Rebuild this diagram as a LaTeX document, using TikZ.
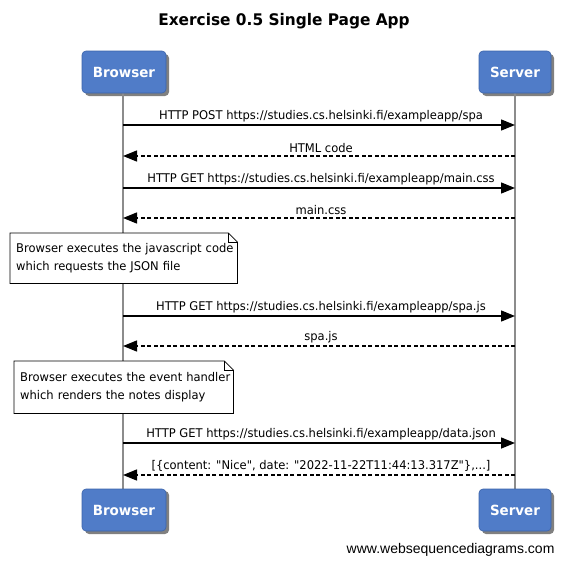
\documentclass[tikz,border=0pt]{standalone}
\usepackage{fontspec}
\setmainfont{DejaVu Sans}[FakeStretch=0.96, Ligatures=TeXOff]
\newfontfamily\footfont{Liberation Sans}
\usetikzlibrary{arrows.meta}
\definecolor{actorblue}{RGB}{80,124,200}
\definecolor{actoredge}{RGB}{60,100,170}
\definecolor{lifegray}{RGB}{140,140,140}
\tikzset{
  actor/.style={rounded corners=4pt, fill=actorblue, draw=actoredge, line width=0.6pt,
    minimum width=#1, minimum height=42pt, inner sep=0pt, text=white,
    font=\fontsize{14}{17}\selectfont\bfseries},
  actorshadow/.style={rounded corners=4pt, fill=black!50},
  msg/.style={line width=1.4pt, -{Triangle[length=14pt,width=11pt]}},
  reply/.style={msg, dash pattern=on 4pt off 2.5pt},
  lbl/.style={font=\fontsize{12}{14}\selectfont, inner sep=1pt, anchor=south},
  note/.style={font=\fontsize{12}{18}\selectfont, align=left, anchor=north west,
    inner xsep=6pt, inner ysep=0pt, text width=#1},
  notebox/.style={draw=black, line width=0.8pt, fill=white},
  lifeline/.style={draw=lifegray, line width=1.8pt},
}
\begin{document}
\begin{tikzpicture}[x=1pt,y=-1pt]
\useasboundingbox (0,0) rectangle (567,565);
% title
\node[font=\fontsize{16}{19}\selectfont\bfseries] (title) at (284,21) {Exercise 0.5 Single Page App};
% actor shadows
\fill[actorshadow] (85,54) rectangle (169,96);
\fill[actorshadow] (482,54) rectangle (554,96);
\fill[actorshadow] (85,491) rectangle (169,534);
\fill[actorshadow] (482,492) rectangle (554,534);
% lifelines
\coordinate (BT) at (123,93);
\coordinate (BB) at (123,489);
\coordinate (ST) at (515,93);
\coordinate (SB) at (515,489);
\draw[lifeline] (BT) -- (BB);
\draw[lifeline] (ST) -- (SB);
% actors
\node[actor=84pt] (B) at (124,72) {Browser};
\node[actor=72pt] (S) at (515,72) {Server};
\node[actor=84pt] (B2) at (124,510) {Browser};
\node[actor=72pt] (S2) at (515,510) {Server};
% messages
\coordinate (b1) at (123,125); \coordinate (s1) at (515,125);
\coordinate (b2) at (123,156); \coordinate (s2) at (515,156);
\coordinate (b3) at (123,188); \coordinate (s3) at (515,188);
\coordinate (b4) at (123,218); \coordinate (s4) at (515,218);
\coordinate (b5) at (123,316); \coordinate (s5) at (515,316);
\coordinate (b6) at (123,346); \coordinate (s6) at (515,346);
\coordinate (b7) at (123,443); \coordinate (s7) at (515,443);
\coordinate (b8) at (123,475); \coordinate (s8) at (515,475);
\draw[msg] (b1) -- (s1);
\node[lbl] (l1) at (321,123) {HTTP POST https://studies.cs.helsinki.fi/exampleapp/spa};
\draw[reply] (s2) -- (b2);
\node[lbl] (l2) at (321,154) {HTML code};
\draw[msg] (b3) -- (s3);
\node[lbl] (l3) at (321,186) {HTTP GET https://studies.cs.helsinki.fi/exampleapp/main.css};
\draw[reply] (s4) -- (b4);
\node[lbl] (l4) at (321,216) {main.css};
% note 1
\node[note=215pt, minimum height=50pt] (n1) at (10,233) {\mbox{Browser executes the javascript code}\\\mbox{which requests the JSON file}};
\draw[notebox] (n1.north west) -- ([xshift=-9pt]n1.north east) -- ([yshift=-9pt]n1.north east) -- (n1.south east) -- (n1.south west) -- cycle;
\draw[line width=0.6pt] ([xshift=-9pt]n1.north east) |- ([yshift=-9pt]n1.north east);
\node[note=215pt, minimum height=50pt] at (10,233) {\mbox{Browser executes the javascript code}\\\mbox{which requests the JSON file}};
\draw[msg] (b5) -- (s5);
\node[lbl] (l5) at (321,314) {HTTP GET https://studies.cs.helsinki.fi/exampleapp/spa.js};
\draw[reply] (s6) -- (b6);
\node[lbl] (l6) at (321,344) {spa.js};
% note 2
\node[note=207pt, minimum height=52pt] (n2) at (14,361) {\mbox{Browser executes the event handler}\\\mbox{which renders the notes display}};
\draw[notebox] (n2.north west) -- ([xshift=-9pt]n2.north east) -- ([yshift=-9pt]n2.north east) -- (n2.south east) -- (n2.south west) -- cycle;
\draw[line width=0.6pt] ([xshift=-9pt]n2.north east) |- ([yshift=-9pt]n2.north east);
\node[note=207pt, minimum height=52pt] at (14,361) {\mbox{Browser executes the event handler}\\\mbox{which renders the notes display}};
\draw[msg] (b7) -- (s7);
\node[lbl] (l7) at (321,441) {HTTP GET https://studies.cs.helsinki.fi/exampleapp/data.json};
\draw[reply] (s8) -- (b8);
\node[lbl] (l8) at (321,473) {[\{content: "Nice", date: "2022-11-22T11:44:13.317Z"\},...]};
% footer
\node[font=\footfont\fontsize{14}{16}\selectfont, anchor=east] (foot) at (558,550) {www.websequencediagrams.com};
\end{tikzpicture}
\end{document}
